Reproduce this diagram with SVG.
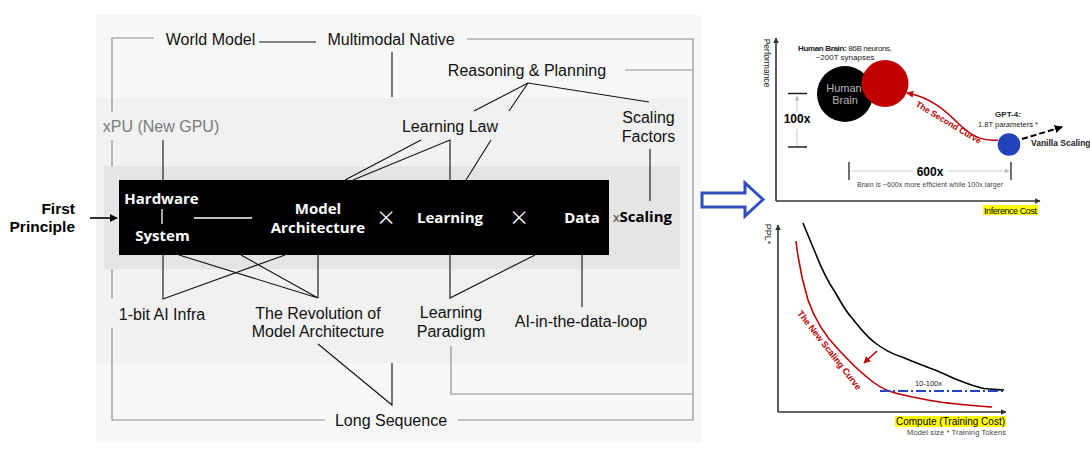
<svg xmlns="http://www.w3.org/2000/svg" width="1090" height="458" viewBox="0 0 1090 458">
<defs>
<style>
.lbl{font-family:"Liberation Sans",Arial,sans-serif;font-size:16px;fill:#111;text-anchor:middle}
.box{font-family:"Open Sans","DejaVu Sans",sans-serif;font-size:15px;font-weight:700;fill:#fff;text-anchor:middle}
.mul{font-family:"Open Sans","Liberation Sans",sans-serif;font-size:30px;font-weight:300;fill:#fff;text-anchor:middle}
.gl{stroke:#8f8f8f;stroke-width:1.2;fill:none}
.bl{stroke:#111;stroke-width:1.1;fill:none}
.wl{stroke:#fff;stroke-width:1.3;fill:none}
.ch{font-family:"Liberation Sans",Arial,sans-serif;fill:#222}
.ax{stroke:#333;stroke-width:1.6;fill:none}
.thin{stroke:#bbb;stroke-width:0.8;fill:none}
</style>
<marker id="ahk" viewBox="0 0 10 10" refX="9" refY="5" markerWidth="6" markerHeight="6" orient="auto-start-reverse" markerUnits="userSpaceOnUse"><path d="M0,0 L10,5 L0,10 z" fill="#333"/></marker>
<marker id="ahb" viewBox="0 0 10 10" refX="9" refY="5" markerWidth="8" markerHeight="8" orient="auto" markerUnits="userSpaceOnUse"><path d="M0,0 L10,5 L0,10 z" fill="#000"/></marker>
<marker id="ahr" viewBox="0 0 10 10" refX="9" refY="5" markerWidth="7" markerHeight="7" orient="auto-start-reverse" markerUnits="userSpaceOnUse"><path d="M0,0 L10,5 L0,10 z" fill="#c00000"/></marker>
<marker id="ahg" viewBox="0 0 10 10" refX="9" refY="5" markerWidth="5" markerHeight="5" orient="auto-start-reverse" markerUnits="userSpaceOnUse"><path d="M0,0 L10,5 L0,10 z" fill="#bbb"/></marker>
</defs>
<rect width="1090" height="458" fill="#fff"/>
<g id="panels">
<rect x="96" y="15" width="605" height="427" fill="#f7f7f7"/>
<rect x="96" y="98" width="592" height="265" fill="#f1f1f1"/>
<rect x="104" y="166" width="576" height="103" fill="#e5e5e5"/>
<rect x="119" y="180" width="490" height="75" fill="#000"/>
</g>
<g id="connectors">
<path class="gl" d="M112,112 V38 H154"/>
<path class="gl" d="M112,140 V166"/>
<path class="gl" d="M112,269 V299"/>
<path class="gl" d="M112,328 V420 H325"/>
<path class="gl" d="M458,420 H693 V39 H467"/>
<path class="gl" d="M625,70 H693"/>
<path class="gl" d="M451,346 V394 H693"/>
<path class="bl" d="M259,42 H316"/>
<path class="bl" d="M392,52 V97"/>
<path class="bl" d="M474,111 L528,83 L649,102 M509,111 L528,83"/>
<path class="bl" d="M421,140 L345,180 M353,180 L450,140 V180 M491,140 L466,180"/>
<path class="bl" d="M650,149 V201"/>
<path class="bl" d="M163,140 V180"/>
<path class="bl" d="M163,255 V299 L285,255"/>
<path class="bl" d="M179,255 L318,298 L241,255 M318,255 V298"/>
<path class="bl" d="M318,344 L392,405 V363"/>
<path class="bl" d="M450,255 V298 L535,255"/>
<path class="bl" d="M582,255 V307"/>
<path class="wl" d="M162,209 V224 M194,218 H252"/>
<path d="M90,218 H117" stroke="#000" stroke-width="1.6" marker-end="url(#ahb)"/>
</g>
<g id="first-principle"><text font-family="Liberation Sans,Arial,sans-serif" font-weight="700" font-size="15.5" text-anchor="end" fill="#000"><tspan x="75" y="214">First</tspan><tspan x="75" y="232">Principle</tspan></text></g>
<g id="world-model"><text class="lbl" x="210.5" y="45">World Model</text></g>
<g id="multimodal-native"><text class="lbl" x="391" y="45">Multimodal Native</text></g>
<g id="reasoning-planning"><text class="lbl" x="527" y="76">Reasoning &amp; Planning</text></g>
<g id="xpu"><text class="lbl" x="161" y="132" style="fill:#7a7a7a">xPU (New GPU)</text></g>
<g id="learning-law"><text class="lbl" x="450" y="132">Learning Law</text></g>
<g id="scaling-factors"><text class="lbl"><tspan x="648.5" y="123">Scaling</tspan><tspan x="648.5" y="142">Factors</tspan></text></g>
<g id="hardware-system"><text class="box" x="161.5" y="204">Hardware</text><text class="box" x="162.5" y="241">System</text></g>
<g id="model-architecture"><text class="box"><tspan x="318" y="214">Model</tspan><tspan x="318" y="233">Architecture</tspan></text></g>
<g id="times1"><text class="mul" x="386" y="228">×</text></g>
<g id="learning"><text class="box" x="450" y="223">Learning</text></g>
<g id="times2"><text class="mul" x="519" y="228">×</text></g>
<g id="data"><text class="box" x="582" y="223">Data</text></g>
<g id="scaling"><text x="613" y="222" font-family="Liberation Sans,Arial,sans-serif" font-size="13" fill="#444">x<tspan font-family="Open Sans,DejaVu Sans,sans-serif" font-size="15" font-weight="700" fill="#000">Scaling</tspan></text></g>
<g id="one-bit"><text class="lbl" x="162" y="320">1-bit AI Infra</text></g>
<g id="revolution"><text class="lbl"><tspan x="318" y="319">The Revolution of</tspan><tspan x="318" y="337">Model Architecture</tspan></text></g>
<g id="learning-paradigm"><text class="lbl"><tspan x="451" y="318">Learning</tspan><tspan x="451" y="337">Paradigm</tspan></text></g>
<g id="ai-data-loop"><text class="lbl" x="581" y="327">AI-in-the-data-loop</text></g>
<g id="long-sequence"><text class="lbl" x="391" y="426">Long Sequence</text></g>
<g id="big-arrow"><polygon points="702,193 745,193 745,183 763,199.5 745,216 745,207 702,207" fill="#fff" stroke="#2e4fbd" stroke-width="3" stroke-linejoin="miter"/></g>
<g id="chart-top">
<path class="ax" d="M776,201 V38" marker-end="url(#ahk)"/>
<path class="ax" d="M776,201 H1040" marker-end="url(#ahk)"/>
<text class="ch" font-size="8.5" text-anchor="middle" transform="translate(767,63) rotate(90)" y="3">Performance</text>
<text class="ch" font-size="8" text-anchor="middle" x="845" y="51" textLength="94"><tspan font-weight="700">Human Brain:</tspan> 86B neurons,</text>
<text class="ch" font-size="8" text-anchor="middle" x="845" y="60">~200T synapses</text>
<circle cx="845" cy="94" r="28" fill="#000"/>
<text class="ch" font-size="11" text-anchor="middle" x="844" y="92" style="fill:#b5b5b5">Human</text>
<text class="ch" font-size="11" text-anchor="middle" x="845" y="104" style="fill:#b5b5b5">Brain</text>
<circle cx="885" cy="83.5" r="23.5" fill="#c00000"/>
<path d="M907,93 C930,97 945,110 960,125 C975,139 985,141 998,140" stroke="#c00000" stroke-width="1.5" fill="none" marker-start="url(#ahr)"/>
<text class="ch" font-size="8.5" font-weight="700" text-anchor="middle" transform="translate(947,125) rotate(31)" style="fill:#c00000">The Second Curve</text>
<circle cx="1009" cy="144.5" r="11.3" fill="#2244bb"/>
<text class="ch" font-size="8" font-weight="700" text-anchor="middle" x="1008" y="117">GPT-4:</text>
<text class="ch" font-size="7.5" text-anchor="middle" x="1008" y="126.5">1.8T parameters *</text>
<path d="M1022,139 L1062,127" stroke="#000" stroke-width="2" stroke-dasharray="6 3" fill="none" marker-end="url(#ahb)"/>
<text class="ch" font-size="8.5" font-weight="700" x="1031" y="146">Vanilla Scaling</text>
<path d="M788,93.5 H807 M788,147 H807" stroke="#222" stroke-width="1.3"/>
<path class="thin" d="M797,112 V96" marker-end="url(#ahg)"/>
<path class="thin" d="M797,129 V146"/>
<text class="ch" font-size="12" font-weight="700" text-anchor="middle" x="797" y="123" style="fill:#000">100x</text>
<path d="M849,162 V180 M1011,162 V180" stroke="#222" stroke-width="1.3"/>
<path class="thin" d="M851,171 H913"/>
<path class="thin" d="M948,171 H1009" marker-end="url(#ahg)"/>
<text class="ch" font-size="12" font-weight="700" text-anchor="middle" x="930" y="176" style="fill:#000">600x</text>
<text class="ch" font-size="7" text-anchor="middle" x="930" y="187" textLength="146" style="fill:#444">Brain is ~600x more efficient while 100x larger</text>
<rect x="983" y="205" width="55" height="10" fill="#ffff00"/>
<text class="ch" font-size="9" text-anchor="middle" x="1010.5" y="213.5" textLength="53" style="fill:#000">Inference Cost</text>
</g>
<g id="chart-bottom">
<path class="ax" d="M778,412 V225" marker-end="url(#ahk)"/>
<path class="ax" d="M778,412 H1006" marker-end="url(#ahk)"/>
<text class="ch" font-size="9" text-anchor="middle" transform="translate(768,234) rotate(90)" y="3">PPL*</text>
<path d="M803,223 C808,235 811,243 815,252 C822,270 828,282 835,292 C842,304 846,312 852,318 C860,328 866,336 874,342 C884,350 892,354 902,357 C914,362 924,366 935,370 C945,374 950,377 958,380 C968,384 976,387 984,388.5 C992,389.5 998,389.5 1004,390" stroke="#000" stroke-width="1.6" fill="none"/>
<path d="M796,241 C798,260 802,280 808,300 C815,320 825,336 838,349 C848,360 858,370 868,378 C876,385 882,389 892,392 C905,396 918,398 934,401 C950,404 965,405 992,407" stroke="#c00000" stroke-width="1.6" fill="none"/>
<text class="ch" font-size="9" font-weight="700" text-anchor="middle" transform="translate(827,352) rotate(52)" textLength="98" style="fill:#c00000">The New Scaling Curve</text>
<path d="M877,351 L864,363" stroke="#c00000" stroke-width="1.6" fill="none" marker-end="url(#ahr)"/>
<path d="M880,391 H1004" stroke="#2244cc" stroke-width="2" stroke-dasharray="10 3 2 3" fill="none"/>
<text class="ch" font-size="7.5" text-anchor="middle" x="928.5" y="386">10-100x</text>
<rect x="895" y="416" width="111" height="11" fill="#ffff00"/>
<text class="ch" font-size="10" text-anchor="middle" x="950.5" y="425" textLength="109" style="fill:#000">Compute (Training Cost)</text>
<text class="ch" font-size="7.5" text-anchor="end" x="1006" y="435" textLength="99" style="fill:#444">Model size * Training Tokens</text>
</g>
</svg>
